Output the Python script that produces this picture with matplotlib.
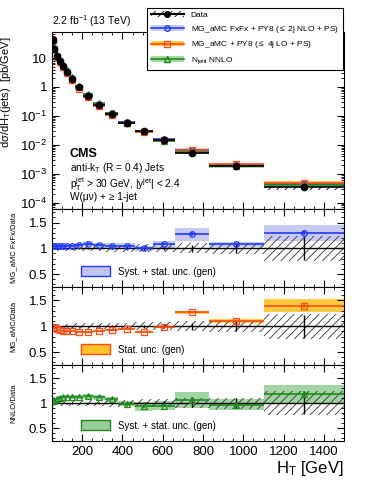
import numpy as np
import matplotlib.pyplot as plt
from matplotlib.patches import Patch
from matplotlib.lines import Line2D
from matplotlib.ticker import MultipleLocator, LogLocator, NullFormatter, FuncFormatter

plt.rcParams['font.family'] = ['Liberation Sans', 'DejaVu Sans']
plt.rcParams['mathtext.fontset'] = 'custom'
plt.rcParams['mathtext.rm'] = 'Liberation Sans'
plt.rcParams['mathtext.it'] = 'Liberation Sans:italic'
plt.rcParams['mathtext.bf'] = 'Liberation Sans:bold'
plt.rcParams['hatch.linewidth'] = 0.6

# H_T bin edges [GeV]
edges = np.array([50, 56, 68, 82, 95, 115, 135, 165, 205, 255, 315, 380, 460, 550, 660, 830, 1100, 1500])
# measured cross section [pb/GeV]
data = [42, 21, 11.7, 7.9, 5.3, 3.3, 1.9, 0.97, 0.50, 0.24, 0.12, 0.059, 0.031, 0.0148, 0.0054, 0.0019, 0.00035]
data_stat = [0.005, 0.005, 0.005, 0.006, 0.006, 0.007, 0.008, 0.01, 0.012, 0.015, 0.02, 0.025, 0.03, 0.04, 0.07, 0.10, 0.22]
data_tot = [0.05, 0.05, 0.05, 0.05, 0.05, 0.05, 0.06, 0.06, 0.06, 0.06, 0.07, 0.07, 0.08, 0.08, 0.10, 0.11, 0.24]

# prediction / data ratios
fxfx = [1.04, 1.04, 1.04, 1.04, 1.04, 1.05, 1.05, 1.06, 1.09, 1.06, 1.05, 1.05, 1.00, 1.08, 1.27, 1.08, 1.30]
fxfx_unc = [0.03, 0.03, 0.03, 0.03, 0.03, 0.03, 0.04, 0.05, 0.05, 0.05, 0.05, 0.05, 0.05, 0.07, 0.12, 0.05, 0.15]
lo = [0.98, 0.96, 0.94, 0.92, 0.91, 0.90, 0.90, 0.89, 0.89, 0.90, 0.92, 0.94, 0.89, 0.98, 1.27, 1.10, 1.40]
lo_unc = [0.01, 0.01, 0.01, 0.01, 0.01, 0.01, 0.01, 0.01, 0.015, 0.015, 0.02, 0.02, 0.02, 0.02, 0.03, 0.04, 0.13]
nnlo = [1.04, 1.06, 1.09, 1.11, 1.12, 1.13, 1.13, 1.13, 1.14, 1.12, 1.08, 0.99, 0.94, 0.95, 1.07, 0.97, 1.18]
nnlo_unc = [0.03, 0.03, 0.03, 0.03, 0.03, 0.03, 0.04, 0.04, 0.05, 0.05, 0.05, 0.05, 0.09, 0.09, 0.16, 0.11, 0.18]

xc = 0.5 * (edges[:-1] + edges[1:])
xw = np.diff(edges)
data = np.array(data)
data_stat = np.array(data_stat)
data_tot = np.array(data_tot)

models = [
    ('MG_aMC FxFx + PY8 ($\\leq$ 2j NLO + PS)', np.array(fxfx), np.array(fxfx_unc),
     '#c4c4f4', '#1f3cff', 'o', 'MG_aMC FxFx/Data', 'Syst. + stat. unc. (gen)'),
    ('MG_aMC + PY8 ($\\leq$ 4j LO + PS)', np.array(lo), np.array(lo_unc),
     '#ffc32a', '#ff4a10', 's', 'MG_aMC/Data', 'Stat. unc. (gen)'),
    ('N$_{\\mathrm{jetti}}$ NNLO', np.array(nnlo), np.array(nnlo_unc),
     '#98cf98', '#1e8a1e', '^', 'NNLO/Data', 'Syst. + stat. unc. (gen)'),
]

fig = plt.figure(figsize=(3.74, 4.84), dpi=100)
L, W = 0.139, 0.781
ax0 = fig.add_axes([L, 0.568, W, 0.366])
rax = [fig.add_axes([L, 0.407, W, 0.161]),
       fig.add_axes([L, 0.246, W, 0.161]),
       fig.add_axes([L, 0.089, W, 0.157])]

def style(ax):
    ax.set_xlim(edges[0], edges[-1])
    ax.xaxis.set_major_locator(MultipleLocator(200))
    ax.xaxis.set_minor_locator(MultipleLocator(50))
    ax.tick_params(which='both', direction='in', top=True, right=True, labelsize=9.5)
    ax.tick_params(which='major', length=5)
    ax.tick_params(which='minor', length=2.5)

# main panel
style(ax0)
ax0.set_yscale('log')
ax0.bar(edges[:-1], 2 * data * data_tot, bottom=data * (1 - data_tot), width=xw, align='edge',
        fill=False, hatch='////', edgecolor='k', linewidth=0)
handles = [(Patch(facecolor='white', hatch='////', edgecolor='k', linewidth=0),
            Line2D([], [], color='k', marker='o', ms=4))]
labels = ['Data']
for name, r, u, band, col, mk, _, _ in models:
    pred = data * r
    ax0.bar(edges[:-1], 2 * pred * u, bottom=pred * (1 - u), width=xw, align='edge',
            color=band, alpha=0.85, linewidth=0)
    ax0.errorbar(xc, pred, xerr=xw / 2, fmt=mk, color=col, mfc='none', ms=4, mew=0.9, lw=1.2)
    handles.append((Patch(facecolor=band, alpha=0.85, linewidth=0),
                    Line2D([], [], color=col, marker=mk, mfc='none', ms=4, lw=1.2)))
    labels.append(name)
ax0.errorbar(xc, data, xerr=xw / 2, yerr=data * data_stat, fmt='o', color='k', ms=4.5, lw=1.2)
ax0.set_ylim(6e-5, 80)
ax0.yaxis.set_major_locator(LogLocator(base=10, numticks=10))
ax0.yaxis.set_minor_locator(LogLocator(base=10, subs=np.arange(2, 10), numticks=20))
ax0.yaxis.set_minor_formatter(NullFormatter())

def logfmt(v, pos):
    e = int(round(np.log10(v)))
    if e == 1:
        return '10'
    if e == 0:
        return '1'
    return '$10^{%d}$' % e

ax0.yaxis.set_major_formatter(FuncFormatter(logfmt))
ax0.tick_params(axis='x', labelbottom=False)
ax0.set_ylabel('dσ/dH$_{\\mathrm{T}}$(jets)  [pb/GeV]', fontsize=8, labelpad=2)
ax0.yaxis.set_label_coords(-0.135, 0.66)

leg = ax0.legend(handles, labels, loc='upper left', bbox_to_anchor=(0.393, 0.984),
                 bbox_transform=fig.transFigure, fontsize=6, frameon=True, fancybox=False,
                 edgecolor='k', framealpha=1, handlelength=4.0, borderaxespad=0,
                 labelspacing=0.55, borderpad=0.45)
leg.get_frame().set_linewidth(0.8)

ax0.text(0.0, 1.015, '2.2 fb$^{-1}$ (13 TeV)', transform=ax0.transAxes, fontsize=7.5,
         ha='left', va='bottom')
ax0.text(0.06, 0.31, 'CMS', transform=ax0.transAxes, fontsize=9, fontweight='bold', va='center')
ax0.text(0.06, 0.232, 'anti-k$_{\\mathrm{T}}$ (R = 0.4) Jets', transform=ax0.transAxes,
         fontsize=7.3, va='center')
ax0.text(0.06, 0.142, 'p$_{\\mathrm{T}}^{\\mathrm{jet}}$ > 30 GeV, |y$^{\\mathrm{jet}}$| < 2.4',
         transform=ax0.transAxes, fontsize=7.3, va='center')
ax0.text(0.06, 0.066, 'W(μν) + ≥ 1-jet', transform=ax0.transAxes, fontsize=7.3, va='center')

# ratio panels
for ax, (name, r, u, band, col, mk, ylab, blab) in zip(rax, models):
    style(ax)
    ax.bar(edges[:-1], 2 * u, bottom=r - u, width=xw, align='edge', color=band, alpha=0.9, linewidth=0)
    ax.bar(edges[:-1], 2 * data_tot, bottom=1 - data_tot, width=xw, align='edge',
           fill=False, hatch='////', edgecolor='#333333', linewidth=0)
    ax.axhline(1, color='k', lw=1)
    ax.errorbar(xc, np.ones_like(xc), yerr=data_stat, fmt='none', ecolor='k', lw=1, capsize=0)
    ax.errorbar(xc, r, xerr=xw / 2, yerr=u / 3, fmt=mk, color=col, mfc='none', ms=4, mew=0.9, lw=1.2)
    ax.set_ylim(0.25, 1.76)
    ax.set_yticks([0.5, 1, 1.5])
    ax.set_yticklabels(['0.5', '1', '1.5'])
    ax.yaxis.set_minor_locator(MultipleLocator(0.1))
    ax.set_ylabel(ylab, fontsize=5.5)
    ax.yaxis.set_label_coords(-0.12, 0.5)
    ax.legend([Patch(facecolor=band, edgecolor=col, linewidth=1)], [blab], loc='lower left',
              fontsize=7, frameon=False, handlelength=3, handleheight=1.2,
              bbox_to_anchor=(0.07, 0.02))
    if ax is not rax[-1]:
        ax.tick_params(axis='x', labelbottom=False)

rax[-1].set_xlabel('H$_{\\mathrm{T}}$ [GeV]', fontsize=12, loc='right', labelpad=1)

fig.savefig('out.png', dpi=100)
